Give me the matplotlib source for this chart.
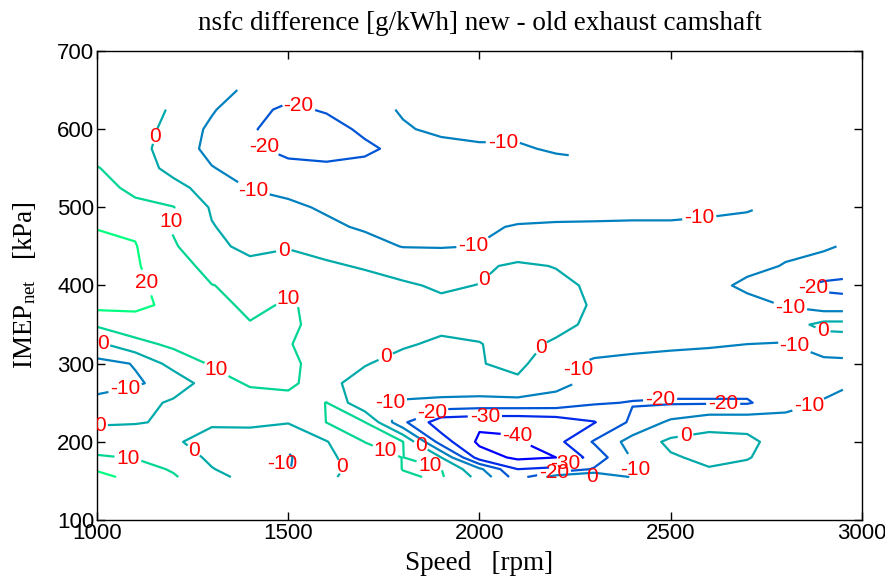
import numpy as np
import matplotlib
matplotlib.use("Agg")
import matplotlib.pyplot as plt

nan = np.nan

# grid axes
speed_rpm = [1000, 1100, 1200, 1300, 1400, 1500, 1600, 1700, 1800, 1900, 2000,
             2100, 2200, 2300, 2400, 2500, 2600, 2700, 2800, 2900, 2950]
imep_kpa = [155, 165, 180, 200, 225, 250, 275, 300, 325, 350, 375, 400, 425,
            450, 475, 500, 525, 550, 575, 600, 625, 650]

# nsfc difference [g/kWh] per IMEP row (columns follow speed_rpm)
nsfc_155 = [23, 17, 11, 3, -3, -9, -2, 5, 9, 11, -3, -25, -5, 1, -11, -5, -4, -5, -6, -8, -8]
nsfc_165 = [19, 14, 9, 0.5, -5, -10.5, -3, 4, 10.2, 10.2, -8, -30, -28, -19, -10.5, -4, -0.5, -2, -5, -8, -8]
nsfc_180 = [11, 9.5, 6, -2, -6, -11, -2, 5, 10.2, 0, -35, -42, -40, -26, -9, -1, 2, 0.5, -4, -8, -8]
nsfc_200 = [5, 5, 1, -3, -4, -8, -0.5, 10.15, 10.2, -25, -42, -41, -33, -19, -6, 2, 3, 2, -4, -8, -8]
nsfc_225 = [-1, -0.5, 1, 1, 1.5, 0.5, 10.15, 10.2, -18, -36, -38, -38, -36, -30.5, -18, -8, -3, -3, -6, -8, -8]
nsfc_250 = [-7, -5, 2, 4, 6, 5, 10.2, -8, -11, -12, -13, -13, -14, -19, -20.5, -21, -21, -21, -14, -9.5, -8]
nsfc_275 = [-14, -11, -7, 6, 11, 13, 2, -3, -5, -5, -4, -2, -7, -13, -15, -16, -16, -16, -14, -12, -11]
nsfc_300 = [-13, -9.5, 4, 11, 14, 12, 6, 0.5, -3, -5, -0.5, 2.5, -7, -12, -13, -14, -14, -13.5, -13, -12, -12]
nsfc_325 = [-2, 7, 12, 14, 13, 10.5, 6, 3, 1, -1.5, -0.2, 2, -1, -5, -7, -8, -9, -10, -10.5, -6, -5]
nsfc_350 = [11.5, 16, 14, 12, 10.5, 11, 8, 6, 4, 2, 1.5, 3, 2, -1.5, -3, -4, -4.5, -5, -5, 3, 3]
nsfc_375 = [23, 22, 18, 13, 8, 11, 7, 5, 3, 1.5, 1.5, 4, 4, -1, -3, -4, -5, -7, -10.5, -16, -16]
nsfc_400 = [22, 22, 16, 10.2, 8, 8, 6, 4, 1, -1, 0.2, 4, 3, -2, -4, -5, -7, -12, -17, -22, -23]
nsfc_425 = [24, 21, 14, 7, 3, 3, 1.5, -1, -3, -4, -2, 2, -0.5, -5, -6, -6, -6.5, -7.5, -10.5, -13, -14]
nsfc_450 = [23, 20.5, 11, 3, -3, -0.5, -3.5, -7, -10.3, -10.5, -9.8, -8, -7, -6, -6, -6, -6, -7, -8, -9, -10.5]
nsfc_475 = [19.5, 18.5, 9, 0.5, -4, -6, -8.5, -11, -12, -12, -11, -9.5, -9, -9, -9, -9, -8.5, -8.5, -7, nan, nan]
nsfc_500 = [15, 12, 10.3, -1, -5, -8.5, -11, -12, -12.5, -13, -13, -13, -13, -12.5, -12, -12, -11.5, -10.5, nan, nan, nan]
nsfc_525 = [13, 8, 3, -4, -10.5, -12, -13, -13, -13, -13, -13.5, -14, -14, -14, -13, -12.5, nan, nan, nan, nan, nan]
nsfc_550 = [10.5, 5, -3, -9.5, -14, -17, -18, -17, -16, -15, -14, -13, -13, -12, nan, nan, nan, nan, nan, nan, nan]
nsfc_575 = [6, 3, -4, -13, -18, -23, -24, -22, -17, -13, -11, -11, -9, nan, nan, nan, nan, nan, nan, nan, nan]
nsfc_600 = [nan, 4, -3, -12, -19, -24, -24, -18, -11, -8, -8, -8, nan, nan, nan, nan, nan, nan, nan, nan, nan]
nsfc_625 = [nan, 2, -0.5, -9, -17, -22, -19, -14, -9, nan, nan, nan, nan, nan, nan, nan, nan, nan, nan, nan, nan]
nsfc_650 = [nan, nan, nan, -6, -12, -16, -14, nan, nan, nan, nan, nan, nan, nan, nan, nan, nan, nan, nan, nan, nan]

levels = [-40, -30, -20, -10, 0, 10, 20]

# approximate positions of the contour labels (speed, IMEP)
label_pos = {
    -40: [(2106, 219)],
    -30: [(2014, 224), (2225, 172)],
    -20: [(1523, 622), (1426, 576), (1870, 244), (2472, 256), (2637, 250),
          (2864, 388), (2195, 160)],
    -10: [(2061, 576), (1408, 522), (1986, 448), (2576, 479), (2812, 372),
          (2825, 324), (2242, 294), (1073, 270), (1706, 257), (2864, 241),
          (1492, 174), (2420, 168)],
    0: [(1159, 590), (1486, 452), (2009, 409), (2898, 343), (1016, 328),
        (2137, 330), (1753, 311), (1008, 219), (2537, 213), (1850, 198),
        (1243, 183), (1667, 174), (2294, 155)],
    10: [(1199, 481), (1505, 390), (1314, 294), (1753, 187), (1878, 183),
         (1081, 178)],
    20: [(1131, 404)],
}

rows = [nsfc_155, nsfc_165, nsfc_180, nsfc_200, nsfc_225, nsfc_250, nsfc_275,
        nsfc_300, nsfc_325, nsfc_350, nsfc_375, nsfc_400, nsfc_425, nsfc_450,
        nsfc_475, nsfc_500, nsfc_525, nsfc_550, nsfc_575, nsfc_600, nsfc_625,
        nsfc_650]
Z = np.ma.masked_invalid(np.array(rows, dtype=float))

plt.rcParams["font.family"] = ["Liberation Sans", "DejaVu Sans"]
plt.rcParams["mathtext.fontset"] = "custom"
plt.rcParams["mathtext.rm"] = "Liberation Serif"
plt.rcParams["mathtext.it"] = "Liberation Serif:italic"

fig = plt.figure(figsize=(8.85, 5.77), dpi=100)
ax = fig.add_axes([0.1096, 0.0988, 0.8644, 0.8128])

cs = ax.contour(speed_rpm, imep_kpa, Z, levels=levels, cmap="winter",
                vmin=-40, vmax=20, linewidths=1.6)
ax.set_xlim(1000, 3000)
ax.set_ylim(100, 700)

# set up label properties, then place each label near its reference position
ax.clabel(cs, manual=[], inline=True, inline_spacing=2, fontsize=15,
          colors="red", fmt="%d")
for lev, pts in label_pos.items():
    idx = levels.index(lev)
    cs.labelIndiceList = [idx]
    cs.labelLevelList = [lev] * len(levels)
    for (px, py) in pts:
        try:
            cs.add_label_near(px, py, inline=True, inline_spacing=2)
        except Exception:
            pass
for t in cs.labelTexts:
    t.set_rotation(0)

ax.set_xticks([1000, 1500, 2000, 2500, 3000])
ax.set_yticks([100, 200, 300, 400, 500, 600, 700])
ax.tick_params(direction="in", top=True, right=True, length=6, width=1,
               labelsize=16, pad=2)
for s in ax.spines.values():
    s.set_linewidth(1.0)

ax.set_title("nsfc difference [g/kWh] new - old exhaust camshaft",
             fontfamily="Liberation Serif", fontsize=19.5, pad=15)
ax.set_xlabel("Speed   [rpm]", fontfamily="Liberation Serif", fontsize=19.5,
              labelpad=5)
ax.set_ylabel(r"IMEP$_{\rm net}$   [kPa]", fontfamily="Liberation Serif",
              fontsize=19.5, labelpad=14)

fig.savefig("out.png", dpi=100)
